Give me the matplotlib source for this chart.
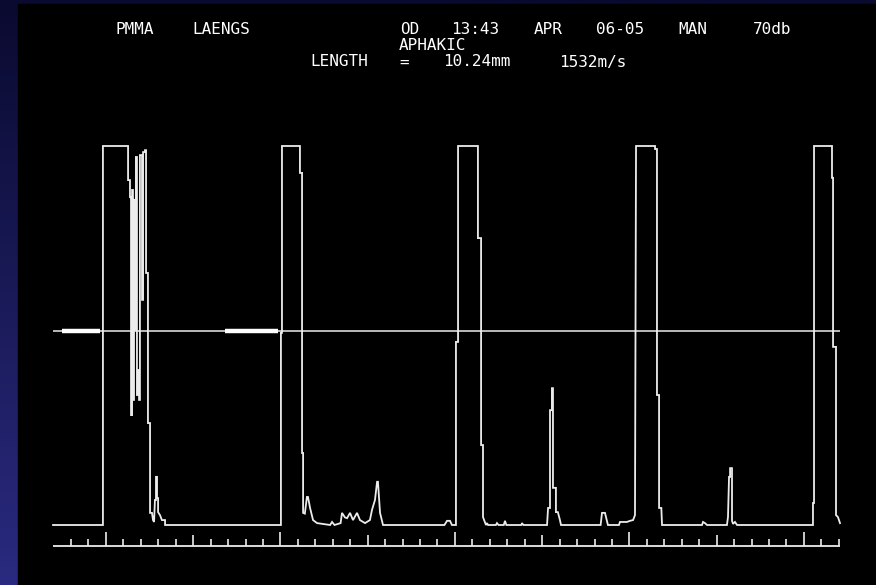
import matplotlib
matplotlib.use("Agg")
import matplotlib.pyplot as plt
import numpy as np
from matplotlib.patches import Rectangle

W, H = 876, 585

# header lines of the A-scan printout
header_left = "PMMA LAENGS"
header_right = "OD 13:43 APR 06-05 MAN  70db"
lens_status = "APHAKIC"
length_line = "LENGTH = 10.24mm 1532m/s"

# echo trace: depth in scale divisions, amplitude in % of full screen
depth = [
    -1.03, 1.83, 1.83, 3.27, 3.27, 3.38, 3.38, 3.44, 3.44, 3.50, 3.50, 3.55,
    3.55, 3.61, 3.61, 3.67, 3.67, 3.72, 3.72, 3.78, 3.78, 3.84, 3.84, 3.90,
    3.90, 3.95, 3.95, 4.07, 4.07, 4.13, 4.13, 4.24, 4.24, 4.30, 4.30, 4.41,
    4.41, 4.53, 4.53, 4.64, 4.70, 4.76, 4.81, 4.87, 4.87, 4.93, 4.93, 4.99,
    4.99, 5.10, 5.21, 5.39, 5.39,
    12.03, 12.03, 12.09, 12.09, 13.12, 13.12, 13.24, 13.24, 13.30, 13.30,
    13.40, 13.52, 13.58, 13.70, 13.87, 14.10, 14.85, 14.96, 15.10, 15.45,
    15.53, 15.70, 15.82, 15.99, 16.16, 16.39, 16.56, 16.85, 17.13, 17.25,
    17.42, 17.54, 17.59, 17.71, 17.88,
    21.40, 21.55, 21.72, 21.83, 22.06, 22.06, 22.18, 22.18, 23.32, 23.32,
    23.50, 23.50, 23.61, 23.61, 23.78, 23.84, 23.90, 24.35, 24.41, 24.50,
    24.80, 24.87, 24.95, 25.80, 25.85, 25.92,
    27.28, 27.34, 27.45, 27.45, 27.56, 27.56, 27.62, 27.62, 27.79, 27.79,
    27.90, 28.02, 28.08,
    30.35, 30.43, 30.60, 30.77, 31.40, 31.46, 31.86, 32.03, 32.21, 32.32,
    32.38, 33.47, 33.47, 33.58, 33.58, 33.70, 33.70, 33.83, 33.87,
    36.16, 36.22, 36.33, 36.45, 37.59, 37.65, 37.71, 37.77, 37.77, 37.88,
    37.88, 37.94, 38.05, 38.17,
    42.52, 42.52, 42.58, 42.58, 43.61, 43.61, 43.67, 43.67, 43.84, 43.84,
    43.95, 44.07,
]
amplitude = [
    0, 0, 100, 100, 91.0, 91.0, 86.5, 86.5, 29.0, 29.0, 88.4, 88.4,
    33.0, 33.0, 85.8, 85.8, 51.5, 51.5, 97.1, 97.1, 34.3, 34.3, 40.9, 40.9,
    33.0, 33.0, 97.6, 97.6, 59.4, 59.4, 98.4, 98.4, 98.9, 98.9, 66.5, 66.5,
    26.9, 26.9, 3.2, 3.2, 1.3, 0.8, 6.6, 6.6, 12.7, 12.7, 7.1, 7.1,
    3.4, 2.6, 1.3, 1.3, 0,
    0, 50.7, 50.7, 100, 100, 92.9, 92.9, 19.0, 19.0, 3.2,
    3.0, 7.4, 7.4, 4.5, 1.3, 0.5, 0, 0.8, 0, 0.5,
    3.2, 2.0, 1.8, 3.2, 1.3, 3.2, 1.3, 0.5, 1.3, 4.0,
    6.6, 11.4, 11.4, 3.2, 0,
    0, 1.1, 1.1, 0, 0, 48.3, 48.3, 100, 100, 75.7,
    75.7, 21.1, 21.1, 2.1, 0, 0.5, 0, 0, 0.5, 0,
    0, 1.1, 0, 0, 0.5, 0,
    0, 4.5, 4.5, 30.3, 30.3, 36.1, 36.1, 9.8, 9.8, 3.4,
    3.4, 1.3, 0,
    0, 3.2, 3.2, 0, 0, 0.8, 0.8, 1.1, 1.3, 2.6,
    100, 100, 99.2, 99.2, 34.3, 34.3, 4.5, 4.5, 0,
    0, 0.8, 0.5, 0, 0, 2.1, 12.7, 12.7, 15.0, 15.0,
    1.1, 0.3, 0.8, 0,
    0, 5.8, 5.8, 100, 100, 91.6, 91.6, 47.0, 47.0, 2.6,
    2.1, 0.5,
]

# gate / threshold line and its two thick markers
gate_level = 51.2
gate_starts = [-0.52, 8.83]
gate_ends = [1.66, 11.86]

# depth scale under the trace
scale_level = -5.5
scale_start, scale_end = -1.03, 44.07
scale_ticks = list(range(0, 45))
major_ticks = [2, 12, 22, 32, 42]
mid_ticks = [7, 17, 27, 37]

fg = "#ececec"

fig = plt.figure(figsize=(W / 100, H / 100), dpi=100)

# slide background: blue gradient with the black screen on top
bg = fig.add_axes([0, 0, 1, 1])
top = np.array([10, 10, 48]) / 255
bottom = np.array([42, 42, 128]) / 255
t = np.linspace(0, 1, 256)[:, None, None]
grad = top * (1 - t) + bottom * t
bg.imshow(grad, aspect="auto", extent=[0, 1, 0, 1])
bg.add_patch(Rectangle((18 / W, 0), 1 - 18 / W, 581 / H, color="black"))
bg.set_xlim(0, 1)
bg.set_ylim(0, 1)
bg.axis("off")

ax = fig.add_axes([0, 0, 1, 1])
ax.patch.set_visible(False)
ax.set_xlim(-71 / 17.45, 805 / 17.45)
ax.set_ylim(-60 / 3.79, 525 / 3.79)
ax.axis("off")

# threshold line with gate markers
ax.hlines(gate_level, scale_start, scale_end, color=fg, lw=1.1)
ax.hlines([gate_level] * len(gate_starts), gate_starts, gate_ends,
          color="white", lw=3.2, capstyle="butt")

# echo trace
ax.plot(depth, amplitude, color=fg, lw=1.3, solid_joinstyle="miter")

# scale line with ticks
ax.hlines(scale_level, scale_start, scale_end, color=fg, lw=1.3)
for tk in scale_ticks:
    if tk in major_ticks:
        h = 3.7
    elif tk in mid_ticks:
        h = 2.9
    else:
        h = 1.7
    ax.vlines(tk, scale_level, scale_level + h, color=fg, lw=1.2)


def put_words(line, x0, y, pitch=14.5):
    # place every word on the character grid of the printout
    idx = 0
    for word in line.split(" "):
        if word:
            cx = x0 + (idx + len(word) / 2) * pitch - 1.5
            fig.text(cx / W, 1 - y / H, word, ha="center", va="center",
                     family="DejaVu Sans Mono", fontsize=11.5, color="white")
        idx += len(word) + 1


put_words(header_left, 107, 29)
put_words(header_right, 397, 29)
put_words(lens_status, 383, 45)
put_words(length_line, 297, 62)

fig.savefig("out.png", dpi=100)
